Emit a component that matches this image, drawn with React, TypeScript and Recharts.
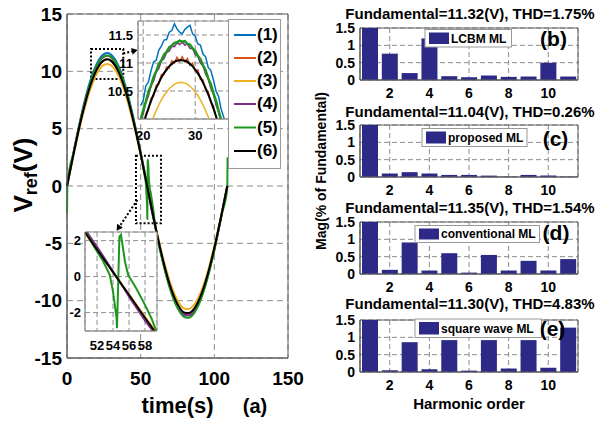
import React from "react"
import {
  LineChart,
  Line,
  BarChart,
  Bar,
  XAxis,
  YAxis,
  CartesianGrid,
  ReferenceArea,
  ReferenceLine,
} from "recharts"

const FONT = '"Liberation Sans", Arial, sans-serif'

const traceNames = ["(1)", "(2)", "(3)", "(4)", "(5)", "(6)"]
const traceColors = ["#0072BD", "#D95319", "#EDB120", "#7E2F8E", "#1E961E", "#000000"]

// V_ref over one period, sampled on a shared time base (traces 1-4 and 6)
const tMain = [0, 5, 10, 15, 20, 25, 27.5, 30, 35, 40, 45, 50, 52, 54, 56, 58, 60, 65, 70, 75, 80, 82.5, 85, 90, 95, 100, 105, 108.8]
const v1 = [0, 3.3, 6.33, 8.84, 10.61, 11.51, 11.6, 11.45, 10.45, 8.57, 5.98, 2.86, 1.56, 0.26, -1.03, -2.32, -3.59, -6.49, -8.86, -10.49, -11.25, -11.28, -11.08, -10.0, -8.08, -5.51, -2.46, 0]
const v2 = [0, 3.15, 6.03, 8.42, 10.11, 10.96, 11.05, 10.91, 9.95, 8.17, 5.7, 2.78, 1.51, 0.25, -1.02, -2.29, -3.55, -6.41, -8.74, -10.35, -11.1, -11.13, -10.94, -9.87, -7.97, -5.43, -2.43, 0]
const v3 = [0, 3.03, 5.82, 8.12, 9.75, 10.56, 10.65, 10.51, 9.6, 7.88, 5.5, 2.7, 1.48, 0.26, -0.98, -2.22, -3.43, -6.18, -8.43, -9.98, -10.7, -10.73, -10.54, -9.51, -7.69, -5.24, -2.34, 0]
const v4 = [0, 3.24, 6.2, 8.65, 10.39, 11.27, 11.35, 11.21, 10.23, 8.4, 5.86, 2.95, 1.68, 0.3, -1.12, -2.45, -3.62, -6.49, -8.86, -10.49, -11.25, -11.28, -11.08, -10.0, -8.08, -5.51, -2.46, 0]
const v6 = [0, 3.15, 6.03, 8.42, 10.11, 10.96, 11.05, 10.91, 9.95, 8.17, 5.7, 2.78, 1.51, 0.25, -1.01, -2.28, -3.53, -6.38, -8.7, -10.3, -11.05, -11.08, -10.89, -9.82, -7.94, -5.41, -2.42, 0]

// trace 5 has its own time base because of the jumps at the zero crossings
const tGreen = [0, 0.3, 5, 10, 15, 20, 25, 27.5, 30, 35, 40, 45, 50, 50.7, 51.5, 52.8, 53.6, 54.0, 54.45, 54.5, 54.8, 55.0, 55.5, 55.9, 56.9, 58.0, 58.8, 59.4, 60, 65, 70, 75, 80, 82.5, 85, 90, 95, 100, 105, 108.8, 109]
const v5 = [-2.4, 0.2, 3.2, 6.18, 8.66, 10.42, 11.3, 11.39, 11.24, 10.27, 8.43, 5.83, 2.85, 2.41, 1.76, 0.83, 0.09, -0.83, -2.31, -2.87, 2.22, 2.32, 0.83, 0.09, -0.64, -1.57, -2.31, -3.0, -3.55, -6.6, -9.0, -10.65, -11.45, -11.5, -11.3, -10.18, -8.22, -5.6, -2.5, -0.2, 2.5]

// finer samples around the positive peak
const tPeak = [19.5, 20, 20.5, 21, 21.5, 22, 22.5, 23, 23.5, 24, 24.5, 25, 25.5, 26, 26.5, 27, 27.5, 28, 28.5, 29, 29.5, 30, 30.5, 31, 31.5, 32, 32.5, 33, 33.5, 34, 34.5, 35, 35.5, 36]
const p1 = [10.24, 10.33, 10.59, 10.66, 10.86, 11.02, 11.05, 11.23, 11.3, 11.41, 11.42, 11.55, 11.58, 11.7, 11.61, 11.55, 11.52, 11.6, 11.64, 11.67, 11.52, 11.48, 11.34, 11.32, 11.16, 11.11, 10.92, 10.87, 10.7, 10.5, 10.4, 10.17, 10.03, 9.8]
const p2 = [9.76, 9.86, 10.09, 10.16, 10.37, 10.41, 10.6, 10.62, 10.79, 10.8, 10.93, 10.91, 11.04, 11.0, 11.1, 11.03, 11.11, 11.02, 11.08, 10.96, 11.0, 10.86, 10.88, 10.71, 10.7, 10.52, 10.49, 10.3, 10.24, 10.03, 9.93, 9.71, 9.58, 9.36]
const p3 = [9.33, 9.49, 9.65, 9.79, 9.92, 10.04, 10.15, 10.25, 10.34, 10.42, 10.48, 10.54, 10.58, 10.62, 10.64, 10.65, 10.65, 10.64, 10.62, 10.58, 10.54, 10.48, 10.42, 10.34, 10.25, 10.15, 10.04, 9.92, 9.79, 9.65, 9.49, 9.33, 9.15, 8.97]
const p4 = [9.96, 10.09, 10.3, 10.41, 10.59, 10.68, 10.84, 10.9, 11.04, 11.08, 11.19, 11.21, 11.3, 11.29, 11.36, 11.33, 11.37, 11.32, 11.34, 11.26, 11.26, 11.15, 11.12, 11.0, 10.95, 10.8, 10.72, 10.55, 10.45, 10.25, 10.13, 9.91, 9.77, 9.55]
const p5 = [9.98, 10.16, 10.31, 10.48, 10.6, 10.75, 10.85, 10.98, 11.05, 11.15, 11.2, 11.28, 11.31, 11.36, 11.37, 11.4, 11.38, 11.39, 11.34, 11.33, 11.26, 11.22, 11.13, 11.07, 10.96, 10.87, 10.73, 10.62, 10.46, 10.33, 10.14, 9.99, 9.79, 9.59]
const p6 = [9.73, 9.89, 10.05, 10.19, 10.32, 10.44, 10.55, 10.65, 10.74, 10.82, 10.88, 10.94, 10.98, 11.02, 11.04, 11.05, 11.05, 11.04, 11.02, 10.98, 10.94, 10.88, 10.82, 10.74, 10.65, 10.55, 10.44, 10.32, 10.19, 10.05, 9.89, 9.73, 9.55, 9.37]

// harmonic spectra, % of fundamental (the fundamental itself runs off the axis)
const harmonics = [1, 2, 3, 4, 5, 6, 7, 8, 9, 10, 11]
const magLCBM = [100, 0.76, 0.2, 1.2, 0.11, 0.08, 0.13, 0.09, 0.1, 0.5, 0.1]
const magProposed = [100, 0.1, 0.14, 0.1, 0.06, 0.06, 0.04, 0.01, 0.06, 0.04, 0.01]
const magConventional = [100, 0.12, 0.91, 0.1, 0.6, 0.04, 0.55, 0.1, 0.38, 0.1, 0.43]
const magSquare = [100, 0.05, 0.86, 0.08, 0.92, 0.04, 0.92, 0.1, 0.92, 0.12, 1.28]

const titles = [
  "Fundamental=11.32(V), THD=1.75%",
  "Fundamental=11.04(V), THD=0.26%",
  "Fundamental=11.35(V), THD=1.54%",
  "Fundamental=11.30(V), THD=4.83%",
]
const methods = ["LCBM ML", "proposed ML", "conventional ML", "square wave ML"]
const panelTags = ["(b)", "(c)", "(d)", "(e)"]

const BAR = "#2c2a86"
const GRID = "#8c8c8c"
const BOX = "#606060"

const toPoints = (ts: number[], vs: number[]) => ts.map((t, i) => ({ t, v: vs[i] }))

const mainSeries = [
  toPoints(tMain, v1),
  toPoints(tMain, v2),
  toPoints(tMain, v3),
  toPoints(tMain, v4),
  toPoints(tGreen, v5),
  toPoints(tMain, v6),
]
const peakSeries = [p1, p2, p3, p4, p5, p6].map((vs) => toPoints(tPeak, vs))

const tickFont = (size: number) => ({
  fill: "#000",
  fontSize: size,
  fontWeight: "bold" as const,
  fontFamily: FONT,
})

// dotted pointer from a marked region to its zoomed view
const dottedArrow = (props: any) => {
  const { x1, y1, x2, y2 } = props
  const a = Math.atan2(y2 - y1, x2 - x1)
  const len = 6
  const w = 3.5
  const bx = x2 - len * Math.cos(a)
  const by = y2 - len * Math.sin(a)
  const pts = `${x2},${y2} ${bx + w * Math.sin(a)},${by - w * Math.cos(a)} ${bx - w * Math.sin(a)},${by + w * Math.cos(a)}`
  return (
    <g>
      <line x1={x1} y1={y1} x2={bx} y2={by} stroke="#000" strokeWidth={2} strokeDasharray="2 2" />
      <polygon points={pts} fill="#000" />
    </g>
  )
}

function MainPlot() {
  return (
    <div style={{ position: "absolute", left: 0, top: 0 }}>
      <LineChart width={310} height={422} margin={{ top: 14, right: 22, left: 7, bottom: 34 }}>
        <CartesianGrid stroke={GRID} strokeDasharray="6 4" />
        <XAxis
          type="number"
          dataKey="t"
          domain={[0, 150]}
          ticks={[0, 50, 100, 150]}
          interval={0}
          height={30}
          tickLine={false}
          tickSize={6}
          tickMargin={8}
          axisLine={{ stroke: BOX }}
          tick={tickFont(19)}
        />
        <YAxis
          type="number"
          domain={[-15, 15]}
          ticks={[-15, -10, -5, 0, 5, 10, 15]}
          interval={0}
          width={60}
          tickLine={false}
          tickSize={2}
          tickMargin={3}
          axisLine={{ stroke: BOX }}
          tick={tickFont(19)}
        />
        {mainSeries.map((d, i) => (
          <Line
            key={traceNames[i]}
            data={d}
            dataKey="v"
            type="monotone"
            stroke={traceColors[i]}
            strokeWidth={2}
            dot={false}
            isAnimationActive={false}
          />
        ))}
        <ReferenceArea x1={0} x2={150} y1={-15} y2={15} fill="none" stroke={BOX} />
        <ReferenceArea x1={16.3} x2={38.2} y1={9.33} y2={11.94} fill="none" stroke="#000" strokeWidth={2} strokeDasharray="2 2" />
        <ReferenceArea x1={46.8} x2={63.8} y1={-3.25} y2={2.64} fill="none" stroke="#000" strokeWidth={2} strokeDasharray="2 2" />
        <ReferenceLine segment={[{ x: 38.2, y: 11.57 }, { x: 48, y: 11.86 }]} shape={dottedArrow} />
        <ReferenceLine segment={[{ x: 47.7, y: -1.22 }, { x: 33.7, y: -3.9 }]} shape={dottedArrow} />
      </LineChart>
    </div>
  )
}

function PeakInset() {
  return (
    <div style={{ position: "absolute", left: 100, top: 15 }}>
      <LineChart width={135} height={134} margin={{ top: 6, right: 6, left: 0, bottom: 11 }}>
        <CartesianGrid fill="#fff" stroke={GRID} strokeDasharray="5 3" />
        <XAxis
          type="number"
          dataKey="t"
          domain={[19, 36.5]}
          ticks={[20, 30]}
          interval={0}
          allowDataOverflow
          height={19}
          tickLine={false}
          tickSize={4}
          tickMargin={8}
          axisLine={{ stroke: "#999" }}
          tick={tickFont(13)}
        />
        <YAxis
          type="number"
          domain={[10, 11.75]}
          ticks={[10.5, 11, 11.5]}
          interval={0}
          allowDataOverflow
          width={38}
          tickLine={false}
          tickSize={2}
          tickMargin={3}
          axisLine={{ stroke: "#999" }}
          tick={tickFont(13)}
        />
        {peakSeries.map((d, i) => (
          <Line
            key={traceNames[i]}
            data={d}
            dataKey="v"
            type={i === 2 || i === 5 ? "monotone" : "linear"}
            stroke={traceColors[i]}
            strokeWidth={i === 4 ? 2.5 : i === 5 ? 2 : 1.5}
            dot={false}
            isAnimationActive={false}
          />
        ))}
        <ReferenceArea x1={19} x2={36.5} y1={10} y2={11.75} fill="none" stroke="#999" />
      </LineChart>
    </div>
  )
}

function CrossingInset() {
  return (
    <div style={{ position: "absolute", left: 55, top: 228 }}>
      <LineChart width={107} height={131} margin={{ top: 4, right: 5, left: 0, bottom: 10 }}>
        <CartesianGrid fill="#fff" stroke={GRID} strokeDasharray="5 3" />
        <XAxis
          type="number"
          dataKey="t"
          domain={[50.5, 59.5]}
          ticks={[52, 54, 56, 58]}
          interval={0}
          allowDataOverflow
          height={18}
          tickLine={false}
          tickSize={3}
          tickMargin={7}
          axisLine={{ stroke: "#999" }}
          tick={tickFont(13)}
        />
        <YAxis
          type="number"
          domain={[-3.02, 2.48]}
          ticks={[-2, 0, 2]}
          interval={0}
          allowDataOverflow
          width={30}
          tickLine={false}
          tickSize={1}
          tickMargin={3}
          axisLine={{ stroke: "#999" }}
          tick={tickFont(13)}
        />
        {mainSeries.map((d, i) => (
          <Line
            key={traceNames[i]}
            data={d}
            dataKey="v"
            type="linear"
            stroke={traceColors[i]}
            strokeWidth={i === 4 ? 2 : 1.8}
            dot={false}
            isAnimationActive={false}
          />
        ))}
        <ReferenceArea x1={50.5} x2={59.5} y1={-3.02} y2={2.48} fill="none" stroke="#999" />
      </LineChart>
    </div>
  )
}

const panelTops = [28, 125, 222, 320]
const spectra = [magLCBM, magProposed, magConventional, magSquare]

function Spectrum({ values, top }: { values: number[]; top: number }) {
  const data = harmonics.map((h, i) => ({ h, m: values[i] }))
  return (
    <div style={{ position: "absolute", left: 300, top: top - 8 }}>
      <BarChart width={305} height={88} data={data} margin={{ top: 8, right: 27, left: 10, bottom: 8 }}>
        <CartesianGrid stroke={GRID} strokeDasharray="5 3" />
        <XAxis
          dataKey="h"
          ticks={[2, 4, 6, 8, 10]}
          interval={0}
          height={20}
          tickLine={false}
          tickSize={4}
          tickMargin={4}
          axisLine={{ stroke: BOX }}
          tick={tickFont(14)}
        />
        <YAxis
          type="number"
          domain={[0, 1.5]}
          ticks={[0, 0.5, 1, 1.5]}
          interval={0}
          allowDataOverflow
          width={50}
          tickLine={false}
          tickSize={2}
          tickMargin={3}
          axisLine={{ stroke: BOX }}
          tick={tickFont(14)}
        />
        <Bar dataKey="m" fill={BAR} barSize={16} isAnimationActive={false} />
        <ReferenceArea y1={0} y2={1.5} fill="none" stroke={BOX} />
      </BarChart>
    </div>
  )
}

const legendRows = [35, 58, 81, 104, 127.5, 151]
const titleBaselines = [19, 116.5, 213, 309]
const methodBoxes = [
  { x: 425, y: 29.5, w: 86.5, h: 17.5 },
  { x: 422, y: 128.5, w: 105, h: 18 },
  { x: 415, y: 225.5, w: 124.5, h: 17 },
  { x: 415, y: 319, w: 126.5, h: 18.5 },
]
const tagCenters = [
  { x: 553.5, y: 40.7 },
  { x: 555.5, y: 140 },
  { x: 556, y: 234.3 },
  { x: 552.5, y: 330 },
]

function Annotations() {
  return (
    <svg
      width={605}
      height={422}
      style={{ position: "absolute", left: 0, top: 0, pointerEvents: "none" }}
      fontFamily={FONT}
      fontWeight="bold"
    >
      {/* trace legend */}
      <rect x={228.5} y={19.5} width={52} height={149} fill="#fff" stroke="#999" />
      {traceNames.map((n, i) => (
        <g key={n}>
          <line x1={234} x2={256} y1={legendRows[i]} y2={legendRows[i]} stroke={traceColors[i]} strokeWidth={2} />
          <text x={257} y={legendRows[i] + 5} fontSize={17}>
            {n}
          </text>
        </g>
      ))}

      {/* left panel labels */}
      <text transform="translate(32,175) rotate(-90)" textAnchor="middle">
        <tspan fontSize={26}>V</tspan>
        <tspan fontSize={18} dy={5}>ref</tspan>
        <tspan fontSize={26} dy={-5}>(V)</tspan>
      </text>
      <text x={177.5} y={413} textAnchor="middle" fontSize={22}>
        time(s)
      </text>
      <text x={255} y={413} textAnchor="middle" fontSize={20}>
        (a)
      </text>

      {/* spectrum panels */}
      {titles.map((t, i) => (
        <text key={t} x={470} y={titleBaselines[i]} textAnchor="middle" fontSize={15}>
          {t}
        </text>
      ))}
      {methodBoxes.map((b, i) => (
        <g key={methods[i]}>
          <rect x={b.x} y={b.y} width={b.w} height={b.h} fill="#fff" stroke="#999" />
          <rect x={b.x + 4} y={b.y + 3} width={20} height={b.h - 6} fill={BAR} />
          <text x={b.x + 26} y={b.y + b.h / 2 + 4.3} fontSize={12}>
            {methods[i]}
          </text>
        </g>
      ))}
      {panelTags.map((p, i) => (
        <text key={p} x={tagCenters[i].x} y={tagCenters[i].y + 5.5} textAnchor="middle" fontSize={21}>
          {p}
        </text>
      ))}
      <text transform="translate(326,171) rotate(-90)" textAnchor="middle" fontSize={14}>
        Mag(% of Fundamental)
      </text>
      <text x={469} y={409} textAnchor="middle" fontSize={15}>
        Harmonic order
      </text>
    </svg>
  )
}

export default function App() {
  return (
    <div
      style={{
        position: "absolute",
        left: 0,
        top: 0,
        width: 605,
        height: 422,
        background: "#fff",
        fontFamily: FONT,
      }}
    >
      <MainPlot />
      <PeakInset />
      <CrossingInset />
      {spectra.map((s, i) => (
        <Spectrum key={panelTags[i]} values={s} top={panelTops[i]} />
      ))}
      <Annotations />
    </div>
  )
}
